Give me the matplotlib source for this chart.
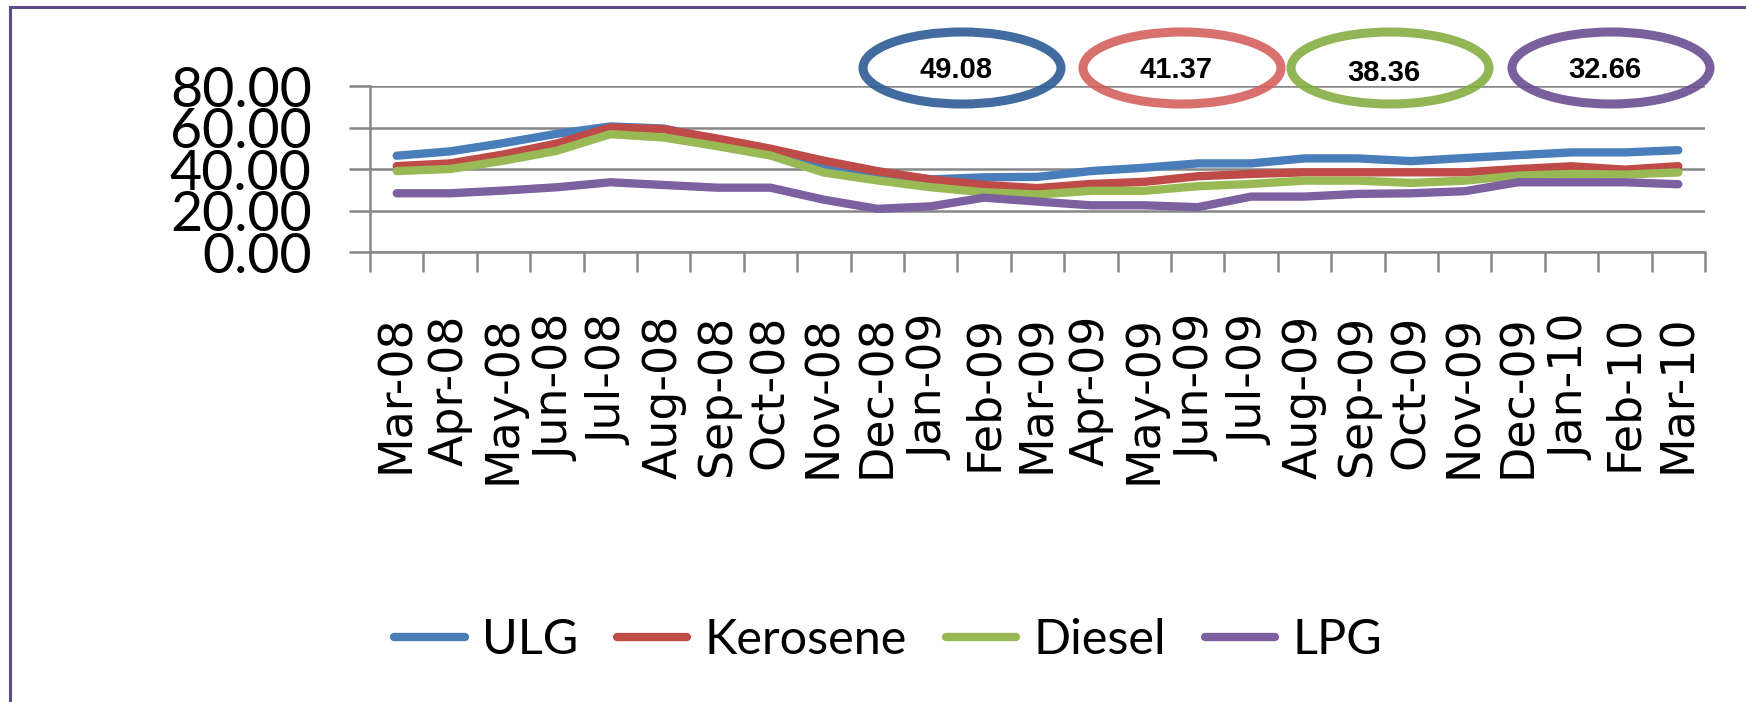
import matplotlib
matplotlib.use("Agg")
import matplotlib.pyplot as plt
import numpy as np
from matplotlib.patches import Ellipse
from matplotlib.lines import Line2D

months = ["Mar-08", "Apr-08", "May-08", "Jun-08", "Jul-08", "Aug-08", "Sep-08",
          "Oct-08", "Nov-08", "Dec-08", "Jan-09", "Feb-09", "Mar-09", "Apr-09",
          "May-09", "Jun-09", "Jul-09", "Aug-09", "Sep-09", "Oct-09", "Nov-09",
          "Dec-09", "Jan-10", "Feb-10", "Mar-10"]

ulg = [46.4, 48.5, 52.5, 57.0, 60.5, 59.5, 54.0, 48.8, 41.5, 38.0, 35.0, 36.0,
       36.2, 39.0, 40.6, 42.7, 42.7, 45.1, 45.1, 43.8, 45.3, 46.7, 48.0, 48.0, 49.08]
kerosene = [41.4, 42.7, 47.0, 52.3, 60.0, 59.2, 54.7, 49.8, 44.0, 39.0, 35.0, 32.3,
            30.8, 32.8, 33.8, 36.5, 37.6, 38.4, 38.4, 38.4, 38.4, 40.0, 41.3, 39.7, 41.37]
diesel = [39.0, 40.0, 44.0, 48.8, 56.8, 55.2, 51.0, 46.5, 38.3, 34.5, 31.2, 28.8,
          27.7, 29.5, 29.5, 31.7, 32.8, 34.4, 34.4, 33.3, 34.4, 36.8, 37.6, 37.3, 38.36]
lpg = [28.3, 28.3, 29.6, 31.2, 33.6, 32.3, 31.0, 31.0, 25.2, 20.8, 22.0, 26.2,
       24.3, 22.5, 22.5, 21.6, 26.7, 26.7, 28.0, 28.3, 29.3, 33.6, 33.6, 33.6, 32.66]

series_names = ["ULG", "Kerosene", "Diesel", "LPG"]
series_colors = ["#4a7ebb", "#be4b48", "#98b954", "#7d60a0"]
ring_colors = ["#2d5b96", "#d4615d", "#86ad44", "#6b4f93"]
yticks = [0, 20, 40, 60, 80]

W, H = 1746, 702
fig = plt.figure(figsize=(W / 100, H / 100), dpi=100)
fig.patch.set_facecolor("white")

ax = fig.add_axes([370 / W, 1 - 252 / H, 1335 / W, 166 / H])
x = np.arange(len(months))
for vals, name, col in zip([ulg, kerosene, diesel, lpg], series_names, series_colors):
    ax.plot(x, vals, color=col, lw=6.0, solid_capstyle="round",
            solid_joinstyle="round", label=name, zorder=3)

grid_col = "#878787"
ax.set_xlim(-0.5, len(months) - 0.5)
ax.set_ylim(0, 80)
ax.set_yticks(yticks)
ax.set_yticklabels([f"{v:.2f}" for v in yticks], fontfamily="Lato", fontsize=40)
ax.yaxis.grid(True, color=grid_col, lw=1.8)
ax.set_axisbelow(True)
for s in ["top", "right"]:
    ax.spines[s].set_visible(False)
for s in ["left", "bottom"]:
    ax.spines[s].set_color(grid_col)
    ax.spines[s].set_linewidth(1.8)
ax.tick_params(axis="y", length=15, width=1.8, color=grid_col, pad=27)

ax.set_xticks(x)
ax.set_xticklabels(months, rotation=90, fontfamily="DejaVu Sans", fontsize=33)
ax.set_xticks(np.arange(-0.5, len(months), 1), minor=True)
ax.tick_params(axis="x", which="major", length=0, pad=45)
ax.tick_params(axis="x", which="minor", length=14.4, width=1.8, color=grid_col)

# value rings
last_vals = [ulg[-1], kerosene[-1], diesel[-1], lpg[-1]]
ring_cx = [962, 1182, 1390, 1611]
ring_dy = [0, 0, 3, 0]
for v, cx, dy, rc in zip(last_vals, ring_cx, ring_dy, ring_colors):
    e = Ellipse((cx / W, 1 - 68 / H), 198 / W, 72 / H, transform=fig.transFigure,
                fill=False, edgecolor=rc, lw=6.5, alpha=0.9, zorder=5)
    fig.add_artist(e)
    fig.text((cx - 6) / W, 1 - (70 + dy) / H, f"{v:.2f}", ha="center", va="center",
             fontfamily="Liberation Sans", fontweight="bold", fontsize=21, zorder=6)

# legend
handles = [Line2D([0], [0], color=c, lw=6.0, solid_capstyle="round") for c in series_colors]
fig.legend(handles, series_names, loc="center", bbox_to_anchor=(888 / W, 1 - 640 / H),
           ncol=4, frameon=False, prop={"family": "Lato", "size": 35},
           handlelength=1.45, handletextpad=0.35, columnspacing=0.8)

# chart border (left and top)
fig.add_artist(Line2D([9.5 / W, 9.5 / W], [0, 1 - 7 / H], transform=fig.transFigure,
                      color="#5f4a8b", lw=2.2))
fig.add_artist(Line2D([9.5 / W, 1], [1 - 7 / H, 1 - 7 / H], transform=fig.transFigure,
                      color="#5f4a8b", lw=2.2))

fig.savefig("out.png", dpi=100)
